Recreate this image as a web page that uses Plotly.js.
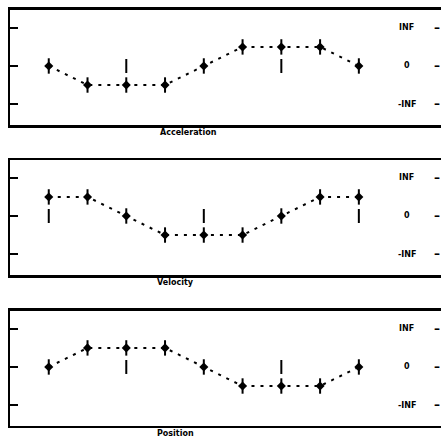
<!DOCTYPE html>
<html>
<head>
<meta charset="utf-8">
<script src="https://cdn.plot.ly/plotly-3.0.1.min.js"></script>
<style>
html,body{margin:0;padding:0;overflow:hidden;background:#fff;}
#chart{width:448px;height:438px;}
</style>
</head>
<body>
<div id="chart"></div>
<script>
// Data
const steps = [0, 1, 2, 3, 4, 5, 6, 7, 8];
const acceleration = [0, -0.5, -0.5, -0.5, 0, 0.5, 0.5, 0.5, 0];
const velocity = [0.5, 0.5, 0, -0.5, -0.5, -0.5, 0, 0.5, 0.5];
const position = [0, 0.5, 0.5, 0.5, 0, -0.5, -0.5, -0.5, 0];
const accelerationZeroMarks = [2, 6];
const velocityZeroMarks = [0, 4, 8];
const positionZeroMarks = [2, 6];
const panelTitles = ['Acceleration', 'Velocity', 'Position'];
const levelValues = [1, 0, -1];
const levelLabels = ['INF', '0', '-INF'];

const series = [acceleration, velocity, position];
const zeroMarks = [accelerationZeroMarks, velocityZeroMarks, positionZeroMarks];
const domains = [[0.7146, 0.9772], [0.3721, 0.6347], [0.0274, 0.2900]];
const titleX = [0.408, 0.378, 0.378];

const traces = [];
const layout = {
  width: 448, height: 438,
  margin: {l: 10, r: 0, t: 0, b: 0},
  paper_bgcolor: '#fff', plot_bgcolor: '#fff',
  showlegend: false,
  font: {family: 'DejaVu Sans', color: '#000', size: 8},
  annotations: []
};

series.forEach((vals, i) => {
  const xa = i === 0 ? 'x' : 'x' + (i + 1);
  const ya = i === 0 ? 'y' : 'y' + (i + 1);
  traces.push({
    x: steps, y: vals, xaxis: xa, yaxis: ya, type: 'scatter', mode: 'lines+markers',
    line: {color: '#000', width: 2, dash: '3px,6px'},
    marker: {symbol: 'diamond', size: 7, color: '#000'}
  });
  traces.push({
    x: steps, y: vals, xaxis: xa, yaxis: ya, type: 'scatter', mode: 'markers',
    marker: {symbol: 'line-ns-open', size: 11, color: '#000', line: {color: '#000', width: 2}}
  });
  traces.push({
    x: zeroMarks[i], y: zeroMarks[i].map(() => 0), xaxis: xa, yaxis: ya, type: 'scatter', mode: 'markers',
    marker: {symbol: 'line-ns-open', size: 10, color: '#000', line: {color: '#000', width: 2}}
  });
  const xk = i === 0 ? 'xaxis' : 'xaxis' + (i + 1);
  const yk = i === 0 ? 'yaxis' : 'yaxis' + (i + 1);
  layout[xk] = {
    range: [-1, 10.3], anchor: ya, showgrid: false, zeroline: false,
    showline: true, mirror: true, linecolor: '#000', linewidth: 2.5,
    showticklabels: false, ticks: ''
  };
  layout[yk] = {
    domain: domains[i], range: [-1.55, 1.47], anchor: xa, showgrid: false, zeroline: false,
    showline: true, mirror: true, linecolor: '#000', linewidth: 2.5,
    tickvals: levelValues, ticks: 'inside', ticklen: 8, tickwidth: 2, tickcolor: '#000',
    showticklabels: false
  };
  layout.annotations.push({
    xref: 'paper', yref: 'paper', x: titleX[i], y: domains[i][0], yanchor: 'top', xanchor: 'center',
    yshift: -1, text: '<b>' + panelTitles[i] + '</b>', showarrow: false,
    font: {family: 'DejaVu Sans', size: 8, color: '#000'}
  });
  levelValues.forEach((v, k) => {
    layout.annotations.push({
      xref: 'paper', yref: ya, x: 0.906, y: v, xanchor: 'center', yanchor: 'middle',
      text: '<b>' + levelLabels[k] + '</b>', showarrow: false,
      font: {family: 'DejaVu Sans', size: 8, color: '#000'}
    });
    layout.annotations.push({
      xref: 'paper', yref: ya, x: 0.984, y: v, xanchor: 'right', yanchor: 'middle',
      text: '<b>–</b>', showarrow: false, borderpad: 0,
      font: {family: 'DejaVu Sans', size: 12, color: '#000'}
    });
  });
});

Plotly.newPlot('chart', traces, layout, {displayModeBar: false, staticPlot: true});
</script>
</body>
</html>
